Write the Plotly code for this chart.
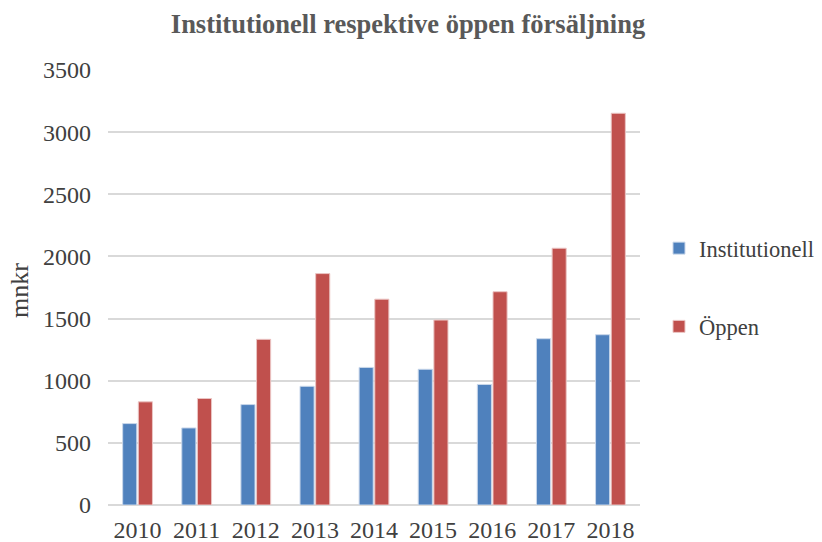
import plotly.graph_objects as go

years = ["2010", "2011", "2012", "2013", "2014", "2015", "2016", "2017", "2018"]
institutionell = [655, 620, 808, 955, 1107, 1092, 970, 1338, 1370]
oppen = [830, 857, 1333, 1862, 1656, 1488, 1716, 2066, 3152]
y_ticks = [0, 500, 1000, 1500, 2000, 2500, 3000, 3500]

FONT = "Liberation Serif, Times New Roman, serif"
W, H = 920, 542

fig = go.Figure()
fig.add_trace(go.Bar(
    x=years, y=institutionell, name="Institutionell",
    marker=dict(color="#4F81BD", line=dict(color="#C9D7EA", width=1)),
    legendgroup="a",
))
fig.add_trace(go.Bar(
    x=years, y=oppen, name="Öppen",
    marker=dict(color="#C0504D", line=dict(color="#EBC5C4", width=1)),
    legendgroup="b",
))

fig.add_annotation(
    text="mnkr", textangle=-90, xref="paper", yref="paper",
    x=-0.1654, y=0.492, xanchor="center", yanchor="middle", showarrow=False,
    font=dict(family=FONT, size=26, color="#404040"),
)

fig.update_layout(
    width=W, height=H,
    margin=dict(l=100, r=W - 632, t=62, b=45),
    paper_bgcolor="white", plot_bgcolor="white",
    barmode="group", bargap=0.47, bargroupgap=0.1,
    title=dict(text="<b>Institutionell respektive öppen försäljning</b>",
               x=400 / W, xanchor="center", y=1 - 16 / H, yanchor="middle",
               font=dict(family=FONT, size=26.5, color="#595959")),
    font=dict(family=FONT, size=24, color="#404040"),
    xaxis=dict(showgrid=False, showline=False, ticks="", automargin=False,
               ticklabelstandoff=8,
               tickfont=dict(size=24, color="#404040")),
    yaxis=dict(range=[0, 3500], tickvals=y_ticks, showgrid=True,
               gridcolor="#D9D9D9", gridwidth=1.5, zeroline=True,
               zerolinecolor="#D9D9D9", zerolinewidth=1.5, ticks="",
               automargin=False, ticklabelstandoff=16,
               tickfont=dict(size=24, color="#404040")),
    legend=dict(x=1.0357, xanchor="left", y=0.5, yanchor="middle",
                tracegroupgap=46, itemwidth=30,
                font=dict(family=FONT, size=22.5, color="#404040"),
                bgcolor="rgba(0,0,0,0)"),
)

fig.write_html("out.html")
